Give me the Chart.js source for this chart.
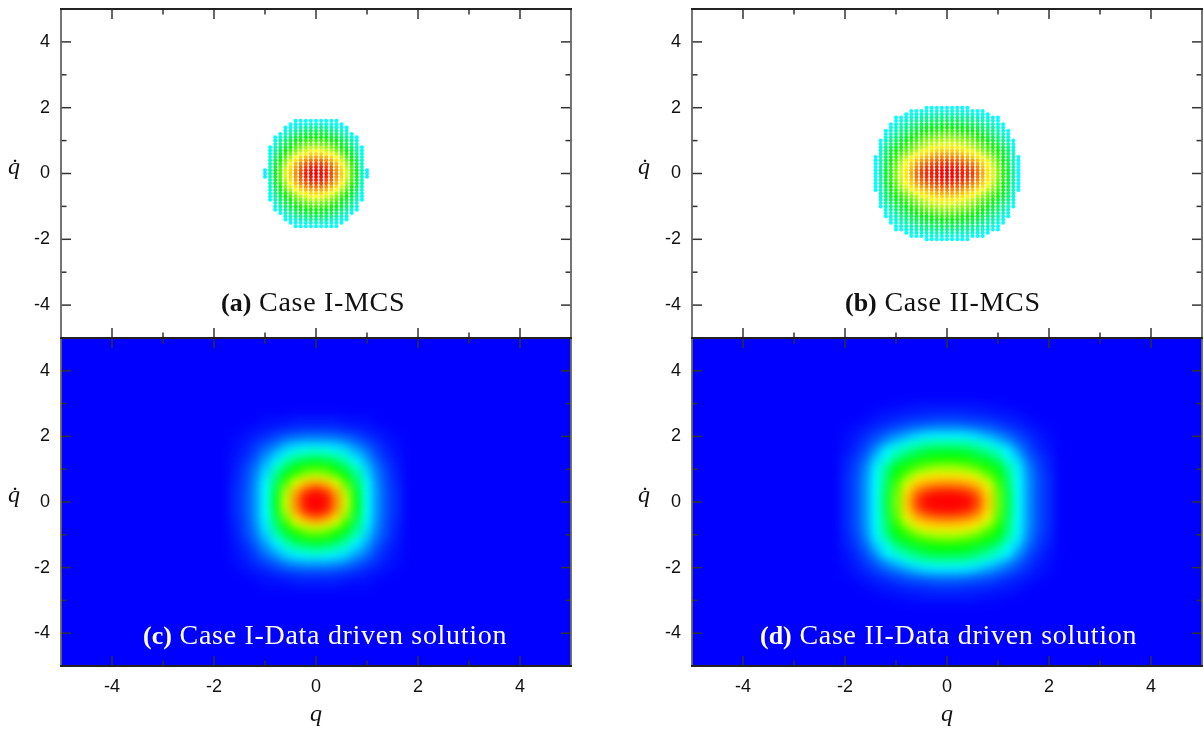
<!DOCTYPE html>
<html>
<head>
<meta charset="utf-8">
<script src="https://cdn.jsdelivr.net/npm/chart.js@4"></script>
<style>
  html, body { margin: 0; padding: 0; background: #fff; }
  body { position: relative; width: 1204px; height: 729px; overflow: hidden; }
  canvas { position: absolute; display: block; }
  .caption { position: absolute; font-family: "Liberation Serif", serif; font-size: 28px; letter-spacing: 0.7px; line-height: 30px; white-space: nowrap; color: #111; }
  .caption b { font-size: 26px; letter-spacing: 0; }
  .caption.light { color: #fff; }
  .ylab { position: absolute; font-family: "Liberation Serif", serif; font-style: italic; font-size: 24px; line-height: 26px; color: #111; }
</style>
</head>
<body>
<script>
// shared ticks
const majorTicks = [-4, -2, 0, 2, 4];
const minorTicks = [-3, -1, 1, 3];

// density levels, one quadrant each (q >= 0, qdot >= 0).
// scale: 0 blue, 3.3 cyan, 5 green, 6.7 yellow, 10 red
const dotsAx = [0, 0.1, 0.2, 0.3, 0.4, 0.5, 0.6, 0.7, 0.8, 0.9, 1.0];
const dotsAy = [0, 0.1, 0.2, 0.3, 0.4, 0.5, 0.6, 0.7, 0.8, 0.9, 1.0, 1.1, 1.2, 1.3, 1.4, 1.5, 1.6];
const dotsA = [
  [10, 9.9, 9.6, 9.0, 8.2, 7.3, 6.4, 5.5, 4.8, 3.8, 3.2],
  [9.9, 9.8, 9.5, 8.9, 8.1, 7.2, 6.4, 5.5, 4.8, 3.8, 3.2],
  [9.7, 9.6, 9.2, 8.7, 7.9, 7.1, 6.2, 5.4, 4.7, 3.7],
  [9.2, 9.1, 8.8, 8.3, 7.6, 6.8, 6.0, 5.3, 4.6, 3.7],
  [8.6, 8.5, 8.2, 7.7, 7.1, 6.4, 5.8, 5.1, 4.5, 3.6],
  [7.9, 7.8, 7.6, 7.2, 6.7, 6.1, 5.5, 4.9, 4.3, 3.5],
  [7.2, 7.2, 6.9, 6.6, 6.2, 5.7, 5.2, 4.7, 4.1, 3.4],
  [6.7, 6.6, 6.4, 6.2, 5.8, 5.4, 5.0, 4.5, 3.9, 3.4],
  [6.2, 6.2, 6.0, 5.8, 5.5, 5.1, 4.7, 4.3, 3.8, 3.3],
  [5.8, 5.7, 5.6, 5.4, 5.2, 4.8, 4.5, 4.1, 3.6],
  [5.4, 5.4, 5.3, 5.1, 4.9, 4.6, 4.3, 3.9, 3.5],
  [5.1, 5.0, 4.9, 4.8, 4.6, 4.3, 4.0, 3.6, 3.3],
  [4.8, 4.7, 4.6, 4.5, 4.3, 4.0, 3.7, 3.4],
  [4.4, 4.4, 4.3, 4.1, 4.0, 3.7, 3.5],
  [4.0, 4.0, 3.9, 3.8, 3.6, 3.4, 3.3],
  [3.6, 3.6, 3.5, 3.4, 3.4, 3.3],
  [3.3, 3.3, 3.3, 3.3, 3.3]
];

const dotsBx = [0, 0.1, 0.2, 0.3, 0.4, 0.5, 0.6, 0.7, 0.8, 0.9, 1.0, 1.1, 1.2, 1.3, 1.4];
const dotsBy = [0, 0.1, 0.2, 0.3, 0.4, 0.5, 0.6, 0.7, 0.8, 0.9, 1.0, 1.1, 1.2, 1.3, 1.4, 1.5, 1.6, 1.7, 1.8, 1.9, 2.0];
const dotsB = [
  [10, 9.9, 9.8, 9.7, 9.5, 9.2, 8.6, 7.8, 7.0, 6.4, 5.8, 5.2, 4.7, 3.9, 3.3],
  [10, 9.9, 9.8, 9.6, 9.4, 9.1, 8.5, 7.7, 7.0, 6.4, 5.8, 5.2, 4.7, 3.9, 3.3],
  [9.8, 9.7, 9.6, 9.4, 9.2, 8.8, 8.3, 7.5, 6.9, 6.3, 5.7, 5.2, 4.6, 3.9, 3.3],
  [9.4, 9.3, 9.2, 9.0, 8.7, 8.4, 7.9, 7.3, 6.7, 6.2, 5.6, 5.1, 4.6, 3.8, 3.3],
  [8.9, 8.8, 8.7, 8.5, 8.2, 7.9, 7.5, 7.0, 6.5, 6.0, 5.5, 5.0, 4.5, 3.8, 3.3],
  [8.3, 8.3, 8.2, 8.0, 7.7, 7.4, 7.0, 6.6, 6.2, 5.8, 5.3, 4.9, 4.4, 3.7, 3.3],
  [7.8, 7.8, 7.7, 7.5, 7.2, 7.0, 6.6, 6.2, 5.9, 5.5, 5.2, 4.8, 4.3, 3.7],
  [7.3, 7.3, 7.2, 7.0, 6.8, 6.6, 6.2, 5.9, 5.6, 5.3, 5.0, 4.7, 4.2, 3.6],
  [6.9, 6.9, 6.8, 6.6, 6.4, 6.2, 5.9, 5.6, 5.4, 5.1, 4.8, 4.5, 4.1, 3.5],
  [6.5, 6.5, 6.4, 6.3, 6.1, 5.9, 5.7, 5.4, 5.2, 4.9, 4.6, 4.3, 3.9, 3.4],
  [6.2, 6.2, 6.1, 6.0, 5.9, 5.7, 5.4, 5.2, 4.9, 4.7, 4.4, 4.1, 3.7, 3.3],
  [5.9, 5.9, 5.8, 5.7, 5.6, 5.4, 5.2, 5.0, 4.7, 4.5, 4.2, 3.9, 3.5],
  [5.6, 5.6, 5.5, 5.4, 5.3, 5.2, 5.0, 4.8, 4.5, 4.3, 4.0, 3.7, 3.4],
  [5.3, 5.3, 5.2, 5.1, 5.0, 4.9, 4.7, 4.5, 4.3, 4.1, 3.8, 3.5, 3.3],
  [5.0, 5.0, 4.9, 4.9, 4.8, 4.6, 4.5, 4.3, 4.1, 3.9, 3.6, 3.4],
  [4.7, 4.7, 4.6, 4.6, 4.5, 4.4, 4.2, 4.1, 3.9, 3.7, 3.5, 3.3],
  [4.4, 4.4, 4.4, 4.3, 4.2, 4.1, 4.0, 3.8, 3.7, 3.5, 3.3],
  [4.1, 4.1, 4.1, 4.0, 4.0, 3.9, 3.7, 3.6, 3.5, 3.3, 3.3],
  [3.8, 3.8, 3.8, 3.7, 3.7, 3.6, 3.5, 3.4, 3.3],
  [3.5, 3.5, 3.5, 3.5, 3.4, 3.4, 3.3, 3.3],
  [3.3, 3.3, 3.3, 3.3, 3.3]
];

const heatCx = [0, 0.2, 0.4, 0.6, 0.8, 1.0, 1.2, 1.4, 1.6];
const heatCy = [0, 0.2, 0.4, 0.6, 0.8, 1.0, 1.2, 1.4, 1.6, 1.8, 2.0, 2.2, 2.4, 2.6];
const heatC = [
  [10, 9.9, 8.3, 6.4, 4.8, 3.3, 1.9, 1.0, 0.5],
  [10, 9.7, 8.1, 6.3, 4.8, 3.3, 1.9, 1.0, 0.5],
  [9.4, 8.8, 7.5, 6.0, 4.6, 3.3, 1.9, 1.0, 0.5],
  [7.8, 7.4, 6.5, 5.5, 4.4, 3.2, 1.8, 0.9, 0.4],
  [6.4, 6.2, 5.7, 5.0, 4.1, 3.0, 1.7, 0.9, 0.4],
  [5.5, 5.4, 5.0, 4.5, 3.8, 2.7, 1.5, 0.8, 0.3],
  [4.9, 4.8, 4.5, 4.0, 3.3, 2.3, 1.3, 0.7, 0.3],
  [4.2, 4.1, 3.9, 3.5, 2.8, 1.9, 1.0, 0.5, 0.2],
  [3.5, 3.4, 3.2, 2.8, 2.1, 1.4, 0.8, 0.4, 0.2],
  [2.5, 2.5, 2.3, 2.0, 1.4, 1.0, 0.6, 0.3, 0.1],
  [1.5, 1.5, 1.4, 1.2, 0.9, 0.6, 0.4, 0.2, 0.1],
  [0.8, 0.8, 0.7, 0.6, 0.5, 0.3, 0.2, 0.1, 0],
  [0.4, 0.4, 0.4, 0.3, 0.2, 0.2, 0.1, 0, 0],
  [0.2, 0.2, 0.2, 0.1, 0.1, 0.1, 0, 0, 0]
];

const heatDx = [0, 0.2, 0.4, 0.6, 0.8, 1.0, 1.2, 1.4, 1.6, 1.8, 2.0];
const heatDy = [0, 0.2, 0.4, 0.6, 0.8, 1.0, 1.2, 1.4, 1.6, 1.8, 2.0, 2.2, 2.4, 2.6, 2.8, 3.0];
const heatD = [
  [10, 10, 10, 9.2, 7.4, 5.8, 4.5, 3.3, 2.0, 1.0, 0.5],
  [10, 9.9, 9.7, 8.9, 7.3, 5.7, 4.5, 3.3, 2.0, 1.0, 0.5],
  [9.2, 9.1, 8.8, 8.1, 7.0, 5.6, 4.4, 3.3, 2.0, 1.0, 0.5],
  [8.0, 7.9, 7.7, 7.3, 6.4, 5.4, 4.3, 3.3, 2.0, 1.0, 0.5],
  [7.0, 7.0, 6.9, 6.5, 5.8, 5.1, 4.2, 3.3, 1.9, 1.0, 0.5],
  [6.2, 6.2, 6.0, 5.7, 5.3, 4.9, 4.0, 3.2, 1.8, 0.9, 0.4],
  [5.6, 5.5, 5.4, 5.2, 4.9, 4.5, 3.7, 3.0, 1.6, 0.8, 0.4],
  [5.0, 5.0, 4.9, 4.7, 4.4, 4.0, 3.3, 2.5, 1.3, 0.7, 0.3],
  [4.5, 4.5, 4.4, 4.2, 3.9, 3.5, 3.1, 1.9, 1.0, 0.5, 0.2],
  [3.9, 3.9, 3.8, 3.6, 3.4, 2.8, 2.1, 1.3, 0.8, 0.4, 0.2],
  [3.2, 3.2, 3.1, 2.9, 2.4, 1.9, 1.4, 1.0, 0.6, 0.3, 0.1],
  [2.2, 2.2, 2.1, 1.8, 1.5, 1.2, 0.9, 0.6, 0.4, 0.2, 0.1],
  [1.2, 1.2, 1.1, 1.0, 0.9, 0.7, 0.5, 0.4, 0.2, 0.1, 0],
  [0.7, 0.7, 0.6, 0.6, 0.5, 0.4, 0.3, 0.2, 0.1, 0, 0],
  [0.4, 0.4, 0.4, 0.3, 0.3, 0.2, 0.2, 0.1, 0, 0, 0],
  [0.2, 0.2, 0.2, 0.2, 0.1, 0.1, 0, 0, 0, 0, 0]
];

const levelStops = [0, 3.3, 5, 6.7, 10];
const levelColors = [[0, 0, 255], [0, 255, 255], [0, 255, 0], [255, 255, 0], [255, 0, 0]];

function levelColor(v) {
  let i = 0;
  while (i < levelStops.length - 2 && v > levelStops[i + 1]) i++;
  const t = Math.min(1, (v - levelStops[i]) / (levelStops[i + 1] - levelStops[i]));
  const a = levelColors[i], b = levelColors[i + 1];
  return `rgb(${a.map((c, k) => Math.round(c + (b[k] - c) * t)).join(",")})`;
}

// unfold a quadrant table into points on all four sides
function mirror(xs, ys, rows) {
  const pts = [];
  rows.forEach((row, r) => {
    row.forEach((v, c) => {
      (xs[c] === 0 ? [0] : [xs[c], -xs[c]]).forEach(x => {
        (ys[r] === 0 ? [0] : [ys[r], -ys[r]]).forEach(y => {
          pts.push({ x: x, y: y, v: v });
        });
      });
    });
  });
  return pts;
}

const cellCache = {};
function cellImage(v) {
  // one colour tile per level, 11x7 px covers a 0.2 x 0.2 cell
  if (!cellCache[v]) {
    const c = document.createElement("canvas");
    c.width = 11;
    c.height = 7;
    const g = c.getContext("2d");
    g.fillStyle = levelColor(v);
    g.fillRect(0, 0, 11, 7);
    cellCache[v] = c;
  }
  return cellCache[v];
}

const softenPlugin = {
  id: "soften",
  beforeDatasetsDraw(chart, args, opts) {
    if (!opts.background) return;
    const a = chart.chartArea;
    chart.ctx.fillStyle = opts.background;
    chart.ctx.fillRect(a.left, a.top, a.width, a.height);
  },
  afterDatasetsDraw(chart, args, opts) {
    // the reference is a soft scan, so blur the marks inside the plot area
    const a = chart.chartArea, ctx = chart.ctx;
    const off = document.createElement("canvas");
    off.width = a.width;
    off.height = a.height;
    off.getContext("2d").drawImage(chart.canvas, a.left, a.top, a.width, a.height, 0, 0, a.width, a.height);
    ctx.save();
    ctx.beginPath();
    ctx.rect(a.left, a.top, a.width, a.height);
    ctx.clip();
    ctx.clearRect(a.left, a.top, a.width, a.height);
    if (opts.background) {
      ctx.fillStyle = opts.background;
      ctx.fillRect(a.left, a.top, a.width, a.height);
    }
    ctx.filter = `blur(${opts.blur}px)`;
    ctx.drawImage(off, a.left, a.top);
    ctx.restore();
  }
};

const framePlugin = {
  id: "frame",
  afterDraw(chart) {
    const ctx = chart.ctx, a = chart.chartArea;
    const sx = chart.scales.x, sy = chart.scales.y;
    ctx.save();
    ctx.strokeStyle = "#333";
    ctx.lineWidth = 1.5;
    const tick = (x1, y1, x2, y2) => {
      ctx.beginPath();
      ctx.moveTo(x1, y1);
      ctx.lineTo(x2, y2);
      ctx.stroke();
    };
    [[majorTicks, 10], [minorTicks, 5.5]].forEach(([vals, len]) => {
      vals.forEach(v => {
        const px = sx.getPixelForValue(v), py = sy.getPixelForValue(v);
        tick(px, a.top, px, a.top + len);
        tick(px, a.bottom, px, a.bottom - len);
        tick(a.left, py, a.left + len, py);
        tick(a.right, py, a.right - len, py);
      });
    });
    ctx.lineWidth = 1.8;
    ctx.strokeStyle = "#666";
    tick(a.left, a.top, a.left, a.bottom);
    tick(a.right, a.top, a.right, a.bottom);
    ctx.strokeStyle = "#222";
    tick(a.left - 1, a.top, a.right + 1, a.top);
    tick(a.left - 1, a.bottom, a.right + 1, a.bottom);
    ctx.restore();
  }
};

// tick labels near the ends should not shrink the plot area
function noMargins(s) {
  s.paddingTop = 0;
  s.paddingBottom = 0;
  s.paddingLeft = 0;
  s.paddingRight = 0;
}

function makePanel(p) {
  const canvas = document.createElement("canvas");
  canvas.width = p.width;
  canvas.height = p.height;
  canvas.style.left = p.left + "px";
  canvas.style.top = p.top + "px";
  document.body.appendChild(canvas);

  new Chart(canvas, {
    type: "scatter",
    data: {
      datasets: [{
        data: p.points,
        pointRadius: p.heat ? 6 : 2,
        pointBorderWidth: 0,
        pointStyle: p.heat ? (c => cellImage(c.raw.v)) : "circle",
        backgroundColor: c => levelColor(c.raw.v)
      }]
    },
    options: {
      responsive: false,
      animation: false,
      devicePixelRatio: 1,
      layout: { autoPadding: false, padding: { top: p.padTop, right: 2, left: 0, bottom: 0 } },
      plugins: {
        legend: { display: false },
        tooltip: { enabled: false },
        soften: { blur: p.heat ? 4 : 0.55, background: p.heat ? levelColor(0) : null }
      },
      scales: {
        x: {
          type: "linear", min: -5, max: 5,
          grid: { display: false, drawTicks: false },
          border: { display: false },
          title: {
            display: p.labelled,
            text: "q",
            padding: { top: 12, bottom: 0 },
            color: "#111",
            font: { family: "Liberation Serif", style: "italic", size: 24 }
          },
          ticks: {
            display: p.labelled,
            padding: 10,
            maxRotation: 0,
            color: "#111",
            font: { family: "Liberation Sans", size: 18 }
          },
          afterBuildTicks: s => { s.ticks = majorTicks.map(v => ({ value: v })); },
          afterFit: s => { s.height = p.axisHeight; noMargins(s); }
        },
        y: {
          type: "linear", min: -5, max: 5,
          grid: { display: false, drawTicks: false },
          border: { display: false },
          ticks: {
            padding: 11,
            color: "#111",
            font: { family: "Liberation Sans", size: 18 }
          },
          afterBuildTicks: s => { s.ticks = majorTicks.map(v => ({ value: v })); },
          afterFit: s => { s.width = 61; noMargins(s); }
        }
      }
    },
    plugins: [softenPlugin, framePlugin]
  });
}

function addText(cls, html, left, top) {
  const d = document.createElement("div");
  d.className = cls;
  d.innerHTML = html;
  d.style.left = left + "px";
  d.style.top = top + "px";
  document.body.appendChild(d);
}

const panelTop = { top: 0, padTop: 9, height: 340, axisHeight: 2, labelled: false, heat: false };
const panelBottom = { top: 328, padTop: 10, height: 401, axisHeight: 63, labelled: true, heat: true };

makePanel({ ...panelTop, left: 0, width: 573, points: mirror(dotsAx, dotsAy, dotsA) });
makePanel({ ...panelTop, left: 631, width: 573, points: mirror(dotsBx, dotsBy, dotsB) });
makePanel({ ...panelBottom, left: 0, width: 573, points: mirror(heatCx, heatCy, heatC) });
makePanel({ ...panelBottom, left: 631, width: 573, points: mirror(heatDx, heatDy, heatD) });

addText("ylab", "q\u0307", 8, 153);
addText("ylab", "q\u0307", 638, 153);
addText("ylab", "q\u0307", 8, 481);
addText("ylab", "q\u0307", 638, 481);

addText("caption", "<b>(a)</b> Case I-MCS", 221, 287);
addText("caption", "<b>(b)</b> Case II-MCS", 845, 287);
addText("caption light", "<b>(c)</b> Case I-Data driven solution", 143, 620);
addText("caption light", "<b>(d)</b> Case II-Data driven solution", 760, 620);
</script>
</body>
</html>
